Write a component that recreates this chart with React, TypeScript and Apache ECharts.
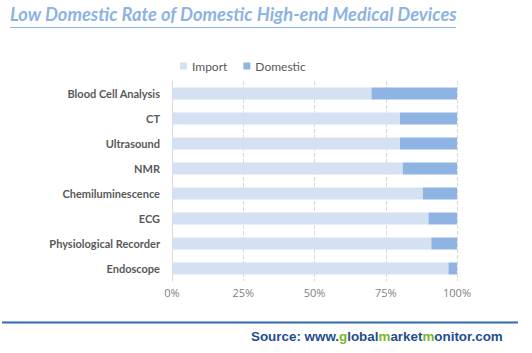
import React, { useEffect, useRef } from "react";
import * as echarts from "echarts";

const categories = [
  "Blood Cell Analysis",
  "CT",
  "Ultrasound",
  "NMR",
  "Chemiluminescence",
  "ECG",
  "Physiological Recorder",
  "Endoscope",
];
const importShare = [70, 80, 80, 81, 88, 90, 91, 97];
const domesticShare = [30, 20, 20, 19, 12, 10, 9, 3];
const xTicks = [0, 25, 50, 75, 100];

export default function App() {
  const ref = useRef<HTMLDivElement>(null);
  useEffect(() => {
    document.body.style.margin = "0";
    const chart = echarts.init(ref.current!, null, { renderer: "svg" });
    chart.setOption({
      animation: false,
      backgroundColor: "#ffffff",
      legend: {
        top: 55,
        left: 175,
        itemWidth: 7,
        itemHeight: 7,
        itemGap: 16,
        icon: "rect",
        textStyle: { color: "#595959", fontSize: 12, fontFamily: "Lato" },
        data: ["Import", "Domestic"],
      },
      grid: { left: 172, right: 75, top: 81, bottom: 72 },
      xAxis: {
        type: "value",
        min: xTicks[0],
        max: xTicks[xTicks.length - 1],
        interval: 25,
        axisLabel: {
          formatter: "{value}%",
          color: "#7f7f7f",
          fontSize: 11,
          fontFamily: "Open Sans",
          margin: 6,
        },
        axisLine: { show: false },
        axisTick: { show: false },
        splitLine: { show: true, lineStyle: { color: "#d9d9d9", type: "dashed", width: 1 } },
      },
      yAxis: {
        type: "category",
        data: categories,
        inverse: true,
        axisLine: { show: true, lineStyle: { color: "#d9d9d9" } },
        axisTick: { show: false },
        axisLabel: {
          color: "#595959",
          fontSize: 11,
          fontWeight: "bold",
          fontFamily: "Lato",
          margin: 12,
        },
      },
      series: [
        {
          name: "Import",
          type: "bar",
          stack: "total",
          data: importShare,
          barWidth: 12,
          itemStyle: { color: "#d3e1f3" },
        },
        {
          name: "Domestic",
          type: "bar",
          stack: "total",
          data: domesticShare,
          barWidth: 12,
          itemStyle: { color: "#8fb4e3" },
        },
      ],
      graphic: [
        {
          type: "text",
          left: 10,
          top: 5,
          style: {
            text: "Low Domestic Rate of Domestic High-end Medical Devices",
            fill: "#8db3e2",
            font: "italic bold 18.3px Lato",
          },
        },
        {
          type: "line",
          shape: { x1: 10, y1: 27.5, x2: 456, y2: 27.5 },
          style: { stroke: "#8db3e2", lineWidth: 1.2 },
        },
        {
          type: "line",
          shape: { x1: 2, y1: 322.5, x2: 518, y2: 322.5 },
          style: { stroke: "#2e6aad", lineWidth: 2 },
        },
        {
          type: "text",
          left: 251,
          top: 330,
          style: {
            text: "{b|Source: www.}{g|g}{b|lobal}{g|m}{b|arket}{g|m}{b|onitor.com}",
            rich: {
              b: { fill: "#1f4e8c", font: "bold 13.4px 'Liberation Sans'" },
              g: { fill: "#77b82a", font: "bold 13.4px 'Liberation Sans'" },
            },
          },
        },
      ],
    });
    return () => chart.dispose();
  }, []);
  return <div ref={ref} style={{ width: 532, height: 353 }} />;
}
